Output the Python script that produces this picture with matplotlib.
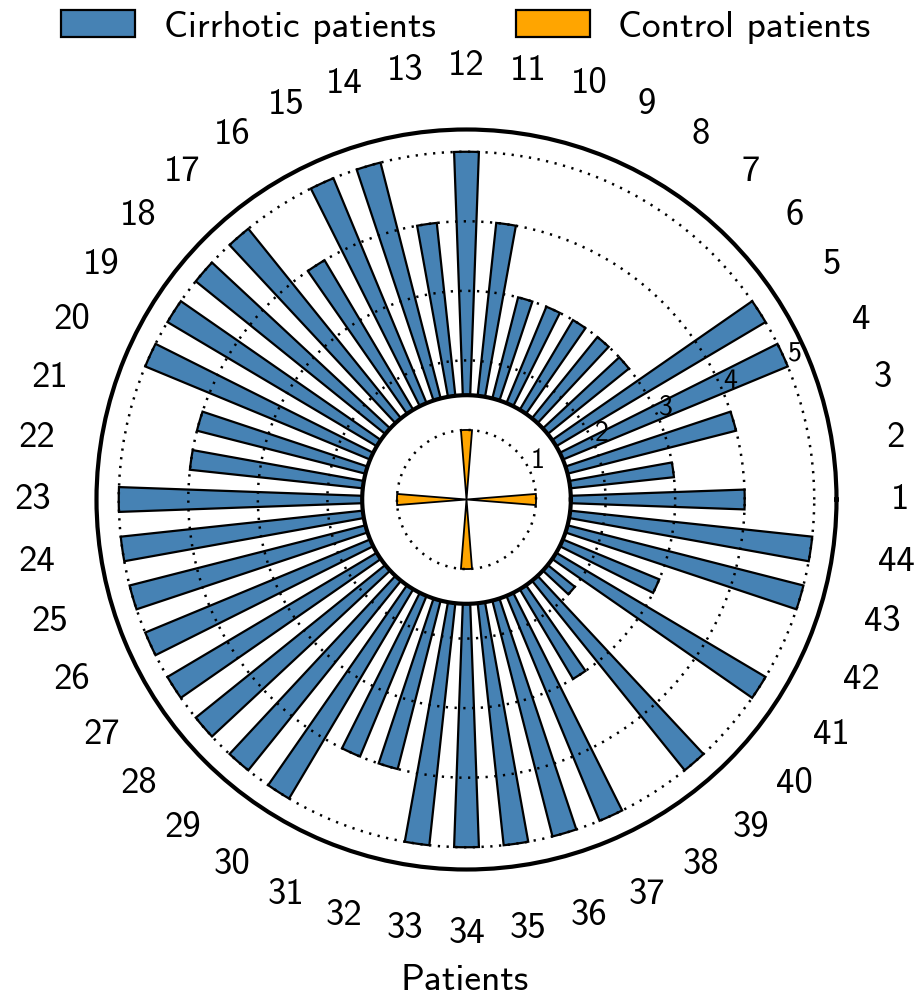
import numpy as np
import matplotlib
matplotlib.use("Agg")
import matplotlib.pyplot as plt
from matplotlib.patches import Patch

plt.rcParams['font.family'] = ['cmss10', 'DejaVu Sans']
plt.rcParams['axes.unicode_minus'] = False

# data
patients = [str(i) for i in range(1, 45)]
cirrhotic = [4, 3, 4, 5, 5, 3, 3, 3, 3, 3, 4, 5, 4, 5, 5, 4, 5, 5, 5, 5, 4, 4,
             5, 5, 5, 5, 5, 5, 5, 5, 4, 4, 5, 5, 5, 5, 5, 3, 5, 2, 5, 3, 5, 5]
control_pos = [0, 11, 22, 33]   # slots (patients 1, 12, 23, 34)
control = [1, 1, 1, 1]
rings = [1, 2, 3, 4, 5]

blue = '#4682b4'
orange = '#ffa500'
hole = 1.5

fig = plt.figure(figsize=(9.21, 9.99), dpi=100)
ax = fig.add_axes([96.5 / 921, 129.5 / 999, 740 / 921, 740 / 999], projection='polar')

n = len(cirrhotic)
theta = np.arange(n) * 2 * np.pi / n
slot = 2 * np.pi / n

ax.bar(theta, np.array(cirrhotic) - hole, bottom=hole, width=slot * 0.5,
       color=blue, edgecolor='black', linewidth=1.6, zorder=1)
ax.bar(theta[control_pos], control, bottom=0, width=0.16,
       color=orange, edgecolor='black', linewidth=1.3, zorder=1)

# inner circle of the hole
tt = np.linspace(0, 2 * np.pi, 500)
ax.plot(tt, np.full_like(tt, hole), color='black', lw=3, zorder=3)

ax.set_ylim(0, 5.32)
ax.set_yticks(rings)
ax.set_yticklabels([str(r) for r in rings], fontsize=20)
ax.yaxis.grid(True, color='black', linestyle=(0, (0.9, 2.6)), linewidth=1.8)
ax.xaxis.grid(False)

ax.set_xticks(theta)
ax.set_xticklabels(patients, fontsize=26.5)
ax.tick_params(axis='x', length=0, pad=39)
ax.spines['polar'].set_linewidth(3)

handles = [Patch(facecolor=blue, edgecolor='black', linewidth=1.6, label='Cirrhotic patients'),
           Patch(facecolor=orange, edgecolor='black', linewidth=1.6, label='Control patients')]
fig.legend(handles=handles, loc='center', bbox_to_anchor=(466 / 921, 1 - 27 / 999),
           ncol=2, frameon=False, fontsize=27, handlelength=1.97, handleheight=0.72,
           handletextpad=0.77, columnspacing=2.13)

fig.text(465 / 921, 1 - 980 / 999, 'Patients', ha='center', va='center', fontsize=27)

fig.savefig('out.png', dpi=100)
